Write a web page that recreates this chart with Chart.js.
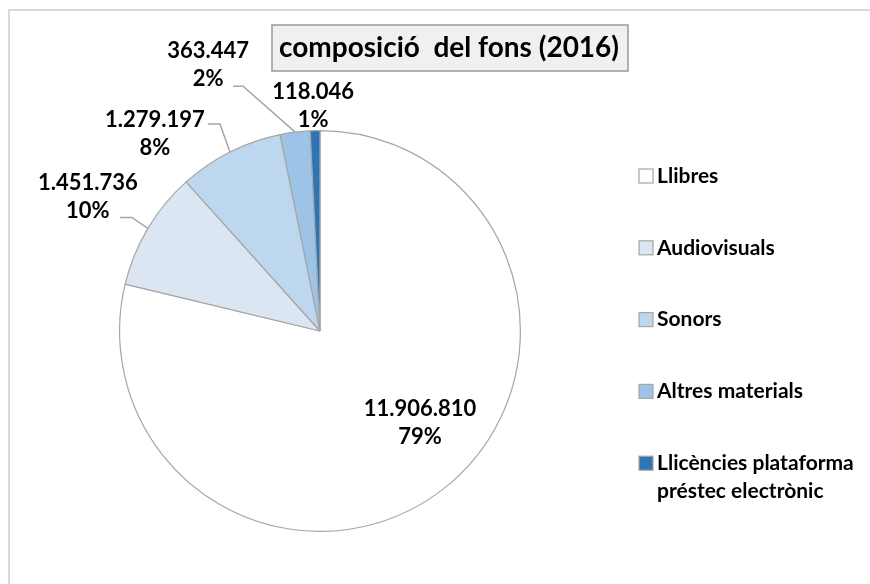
<!DOCTYPE html>
<html>
<head>
<meta charset="utf-8">
<script src="https://cdn.jsdelivr.net/npm/chart.js@4/dist/chart.umd.min.js"></script>
<style>
  html, body { margin:0; padding:0; background:#fff; }
  #wrap { position:relative; width:870px; height:584px; overflow:hidden; }
  #frame { position:absolute; left:8px; top:9px; right:-10px; bottom:-10px;
           border-left:2px solid #d9d9d9; border-top:2px solid #d9d9d9; }
  canvas { position:absolute; left:0; top:0; }
</style>
</head>
<body>
<div id="wrap">
  <div id="frame"></div>
  <canvas id="pie" width="870" height="584"></canvas>
</div>
<script>
// ---- Dades
const title = 'composició  del fons (2016)';
const categories = ['Llibres', 'Audiovisuals', 'Sonors', 'Altres materials', 'Llicències plataforma préstec electrònic'];
const values = [11906810, 1451736, 1279197, 363447, 118046];
const colors = ['#ffffff', '#dce6f2', '#bdd7ee', '#9dc3e6', '#2e75b6'];

// ---- Estil de les etiquetes (desplaçament respecte al punt mig de la vora)
const labelStyle = [
  { off:[-24, -65], leader:null },
  { off:[-60, -32], leader:{ end:[-28, -11], elbow:[-16, -11] } },
  { off:[-75, -18], leader:{ end:[-22, -28], elbow:[-10, -28] } },
  { off:[-87, -67], leader:{ end:[-62, -46], elbow:[-52, -46] } },
  { off:[-2, -25], leader:null }
];

const FONT = 'Lato, "Open Sans", sans-serif';
const fmtNum = n => n.toLocaleString('de-DE');
const total = values.reduce((a, b) => a + b, 0);

// ---- Plugin: títol, etiquetes i llegenda
const decorPlugin = {
  id: 'decor',
  afterDatasetsDraw(chart){
    const ctx = chart.ctx;
    const meta = chart.getDatasetMeta(0);
    ctx.save();
    meta.data.forEach((arc, i) => {
      const p = arc.getProps(['x','y','startAngle','endAngle','outerRadius'], true);
      const mid = (p.startAngle + p.endAngle) / 2;
      const ex = p.x + Math.cos(mid) * p.outerRadius;
      const ey = p.y + Math.sin(mid) * p.outerRadius;
      const st = labelStyle[i];
      if (st.leader){
        ctx.strokeStyle = '#a6a6a6';
        ctx.lineWidth = 1.5;
        ctx.beginPath();
        ctx.moveTo(ex, ey);
        ctx.lineTo(ex + st.leader.elbow[0], ey + st.leader.elbow[1]);
        ctx.lineTo(ex + st.leader.end[0], ey + st.leader.end[1]);
        ctx.stroke();
      }
      const cx = ex + st.off[0], cy = ey + st.off[1];
      ctx.fillStyle = '#000';
      ctx.font = 'bold 22px ' + FONT;
      ctx.textAlign = 'center';
      ctx.textBaseline = 'middle';
      ctx.fillText(fmtNum(values[i]), cx, cy - 14);
      ctx.fillText(Math.round(values[i] / total * 100) + '%', cx, cy + 14);
    });

    // títol
    ctx.font = 'bold 28px ' + FONT;
    ctx.fillStyle = '#f0f0f0';
    ctx.fillRect(272, 25, 356, 46);
    ctx.strokeStyle = '#9a9a9a';
    ctx.lineWidth = 1.5;
    ctx.strokeRect(272, 25, 356, 46);
    ctx.fillStyle = '#000';
    ctx.textAlign = 'center';
    ctx.fillText(title, 449, 48);

    // llegenda
    ctx.font = 'bold 21px ' + FONT;
    ctx.textAlign = 'left';
    const maxW = 215;
    categories.forEach((c, i) => {
      const y = 176 + i * 71.8;
      ctx.fillStyle = colors[i];
      ctx.fillRect(639, y - 7, 14, 14);
      ctx.strokeStyle = '#a6a6a6';
      ctx.lineWidth = 1.2;
      ctx.strokeRect(639, y - 7, 14, 14);
      // word-wrap
      const words = c.split(' ');
      const lines = [];
      let cur = '';
      words.forEach(w => {
        const t = cur ? cur + ' ' + w : w;
        if (ctx.measureText(t).width > maxW && cur){ lines.push(cur); cur = w; }
        else cur = t;
      });
      lines.push(cur);
      ctx.fillStyle = '#000';
      lines.forEach((l, j) => ctx.fillText(l, 657, y + j * 28));
    });
    ctx.restore();
  }
};

new Chart(document.getElementById('pie'), {
  type: 'pie',
  data: {
    labels: categories,
    datasets: [{
      data: values,
      backgroundColor: colors,
      borderColor: '#a6a6a6',
      borderWidth: 1.2
    }]
  },
  options: {
    responsive: false,
    animation: false,
    layout: { padding: { left: 119, right: 349, top: 130, bottom: 52 } },
    plugins: {
      legend: { display: false },
      tooltip: { enabled: false },
      title: { display: false }
    }
  },
  plugins: [decorPlugin]
});
</script>
</body>
</html>
